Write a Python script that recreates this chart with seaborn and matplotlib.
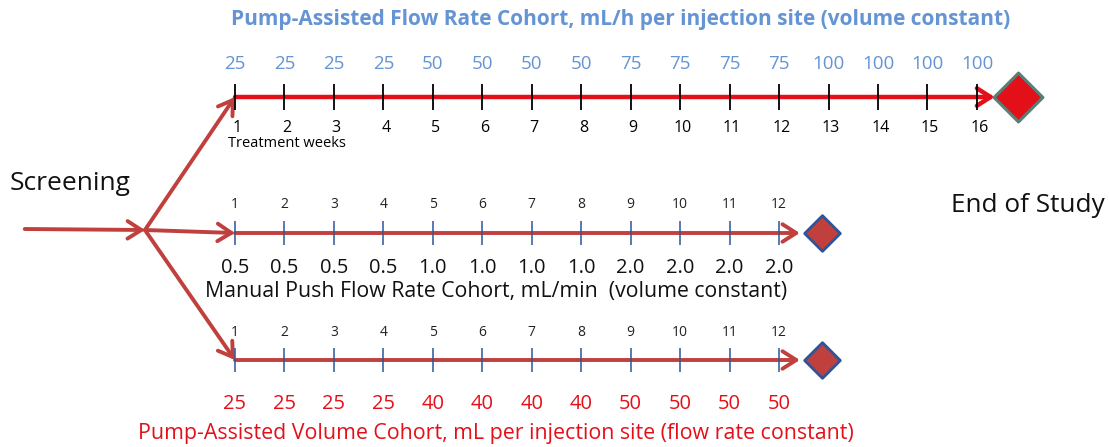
import matplotlib.pyplot as plt
import seaborn as sns
import numpy as np
import pandas as pd

# dados do esquema (semanas de tratamento e taxas de cada coorte)
semanas_bomba = list(range(1, 17))
fluxo_bomba = [25, 25, 25, 25, 50, 50, 50, 50, 75, 75, 75, 75, 100, 100, 100, 100]

semanas_manual = list(range(1, 13))
fluxo_manual = ["0.5", "0.5", "0.5", "0.5", "1.0", "1.0", "1.0", "1.0", "2.0", "2.0", "2.0", "2.0"]

semanas_volume = list(range(1, 13))
volume_bomba = [25, 25, 25, 25, 40, 40, 40, 40, 50, 50, 50, 50]

titulo_topo = "Pump-Assisted Flow Rate Cohort, mL/h per injection site (volume constant)"
titulo_meio = "Manual Push Flow Rate Cohort, mL/min  (volume constant)"
titulo_baixo = "Pump-Assisted Volume Cohort, mL per injection site (flow rate constant)"

sns.set_theme(style="white")
plt.rcParams['font.family'] = ['Open Sans', 'DejaVu Sans']

AZUL = "#6494d3"
VERMELHO = "#e3101a"
VERM_ESC = "#c0403e"
AZUL_ESC = "#2f5597"

fig = plt.figure(figsize=(11.09, 4.47), dpi=100)
ax = fig.add_axes([0, 0, 1, 1])

y_topo, y_meio, y_baixo = 97, 233, 360
x_ramo = -0.82


def seta(x0, y0, x1, y1, cor, lw=2.8):
    ax.annotate("", xy=(x1, y1), xytext=(x0, y0),
                arrowprops=dict(arrowstyle="->,head_length=0.55,head_width=0.35",
                                color=cor, lw=lw, mutation_scale=18,
                                shrinkA=0, shrinkB=0))


# losangos de fim de estudo
fim = pd.DataFrame({"x": [16.83, 12.87, 12.87], "y": [y_topo, y_meio, y_baixo]})
sns.scatterplot(data=fim.iloc[:1], x="x", y="y", marker="D", s=620,
                color=VERMELHO, edgecolor="#5a7f76", linewidth=2.2, ax=ax, zorder=4)
sns.scatterplot(data=fim.iloc[1:], x="x", y="y", marker="D", s=330,
                color=VERM_ESC, edgecolor=AZUL_ESC, linewidth=2, ax=ax, zorder=4)
ax.set_xlim(-3.75, 18.67)
ax.set_ylim(447, 0)
ax.axis("off")

# entrada e ramificações
seta(-3.25, 229, x_ramo, 230, VERM_ESC)
seta(x_ramo, 230, 1, y_topo, VERM_ESC)
seta(x_ramo, 230, 1, y_meio, VERM_ESC)
seta(x_ramo, 230, 1, y_baixo, VERM_ESC)

# linhas do tempo
seta(1, y_topo, 16.36, y_topo, VERMELHO, lw=3.2)
seta(1, y_meio, 12.42, y_meio, VERM_ESC)
seta(1, y_baixo, 12.42, y_baixo, VERM_ESC)

ax.vlines(semanas_bomba, y_topo - 13, y_topo + 13, color="black", lw=1.3, zorder=3)
ax.vlines(semanas_manual, y_meio - 12, y_meio + 12, color=AZUL_ESC, lw=1.1, zorder=3)
ax.vlines(semanas_volume, y_baixo - 12, y_baixo + 12, color=AZUL_ESC, lw=1.1, zorder=3)

# textos da coorte de fluxo com bomba
ax.text(8.8, 20, titulo_topo, color=AZUL, fontsize=15, fontweight="bold",
        ha="center", va="center")
for s, v in zip(semanas_bomba, fluxo_bomba):
    ax.text(s, 64, str(v), color=AZUL, fontsize=13.5, ha="center", va="center")
    ax.text(s + 0.05, 136, str(s), color="black", fontsize=11.5, ha="center", va="bottom")
ax.text(0.85, 136, "Treatment weeks", color="black", fontsize=10.5, ha="left", va="top")

# coorte manual
for s, v in zip(semanas_manual, fluxo_manual):
    ax.text(s, 205, str(s), color="#222222", fontsize=10, ha="center", va="center")
    ax.text(s, 268, v, color="#111111", fontsize=14.5, ha="center", va="center")
ax.text(6.28, 292, titulo_meio, color="#111111", fontsize=15.3, ha="center", va="center")

# coorte de volume
for s, v in zip(semanas_volume, volume_bomba):
    ax.text(s, 333, str(s), color="#222222", fontsize=10, ha="center", va="center")
    ax.text(s, 404, str(v), color=VERMELHO, fontsize=14.5, ha="center", va="center")
ax.text(6.28, 434, titulo_baixo, color=VERMELHO, fontsize=15.4, ha="center", va="center")

ax.text(-3.55, 183, "Screening", color="#111111", fontsize=19, ha="left", va="center")
ax.text(18.58, 205, "End of Study", color="#111111", fontsize=18.8, ha="right", va="center")

plt.savefig("out.png", dpi=100)
plt.close()
